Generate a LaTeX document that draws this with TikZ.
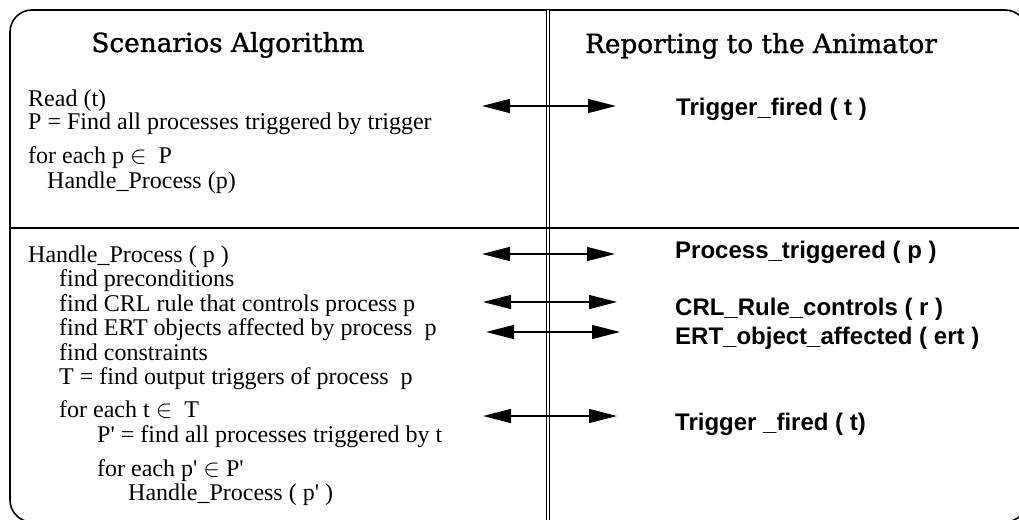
\documentclass[tikz,border=0pt]{standalone}
\usepackage{fontspec}
\setmainfont{Liberation Serif}
\newfontfamily\labelfont{Liberation Sans}
\newfontfamily\headfont{DejaVu Serif}[FakeBold=1.2]
\usetikzlibrary{arrows.meta}

\tikzset{
  frame/.style={line width=1.6pt, rounded corners=22pt},
  divider/.style={line width=1.3pt},
  lane/.style={double, double distance=2.2pt, line width=0.9pt},
  head/.style={font=\headfont\fontsize{26.3}{30}\selectfont, anchor=base, inner sep=0pt},
  code/.style={font=\fontsize{24}{26}\selectfont, anchor=base west, inner sep=0pt},
  event/.style={font=\labelfont\bfseries\fontsize{24}{26}\selectfont, anchor=base west, inner sep=0pt},
  report/.style={line width=1.4pt,
    {Triangle[length=28pt,width=14pt]}-{Triangle[length=28pt,width=14pt]}},
}

\begin{document}
\begin{tikzpicture}[x=1pt,y=-1pt]
  \path[use as bounding box] (0,0) rectangle (1019,519);
  \clip (0,0) rectangle (1019,519);

  % outer frame, the two lanes and the section divider
  \draw[frame] (10,10) rectangle (1027,522);
  \coordinate (laneTop) at (548,10);
  \coordinate (laneBot) at (548,522);
  \draw[lane] (laneTop) -- (laneBot);
  \coordinate (divL) at (10,228);
  \coordinate (divR) at (1027,228);
  \draw[divider] (divL) -- (divR);

  % lane headings
  \node[head] (algHead) at (228,52) {Scenarios Algorithm};
  \node[head] (repHead) at (761,53) {Reporting to the Animator};

  % trigger handling
  \node[code] (read)    at (28,106) {Read (t)};
  \node[code] (findAll) at (28,129) {P = Find all processes triggered by trigger};
  \node[code] (loopP)   at (28,163) {for each p $\in$\ \ P};
  \node[code] (callP)   at (47,188) {Handle\_Process (p)};

  % process handling
  \node[code] (hp)     at (28,262) {Handle\_Process ( p )};
  \node[code] (pre)    at (59,286) {find preconditions};
  \node[code] (crl)    at (59,311) {find CRL rule that controls process p};
  \node[code] (ert)    at (59,335) {find ERT objects affected by process\ \ p};
  \node[code] (con)    at (59,360) {find constraints};
  \node[code] (outT)   at (59,384) {T = find output triggers of process\ \ p};
  \node[code] (loopT)  at (59,417) {for each t $\in$\ \ T};
  \node[code] (findP2) at (97,442) {P\textquotesingle{} = find all processes triggered by t};
  \node[code] (loopP2) at (97,476) {for each p\textquotesingle{} $\in$\ P\textquotesingle};
  \node[code] (callP2) at (128,500) {Handle\_Process ( p\textquotesingle{} )};

  % messages sent to the animator
  \node[event] (fired1)    at (676,115) {Trigger\_fired ( t )};
  \node[event] (triggered) at (675,258) {Process\_triggered ( p )};
  \node[event] (controls)  at (675,315) {CRL\_Rule\_controls ( r )};
  \node[event] (affected)  at (675,344) {ERT\_object\_affected ( ert )};
  \node[event] (fired2)    at (675,430) {Trigger \_fired ( t)};

  % report arrows crossing the lane boundary
  \coordinate (a1L) at (482,106); \coordinate (a1R) at (616,106);
  \coordinate (a2L) at (482,254); \coordinate (a2R) at (615,254);
  \coordinate (a3L) at (483,302); \coordinate (a3R) at (617,302);
  \coordinate (a4L) at (486,332); \coordinate (a4R) at (620,332);
  \coordinate (a5L) at (483,416); \coordinate (a5R) at (617,416);
  \draw[report] (a1L) -- (a1R);
  \draw[report] (a2L) -- (a2R);
  \draw[report] (a3L) -- (a3R);
  \draw[report] (a4L) -- (a4R);
  \draw[report] (a5L) -- (a5R);
\end{tikzpicture}
\end{document}
